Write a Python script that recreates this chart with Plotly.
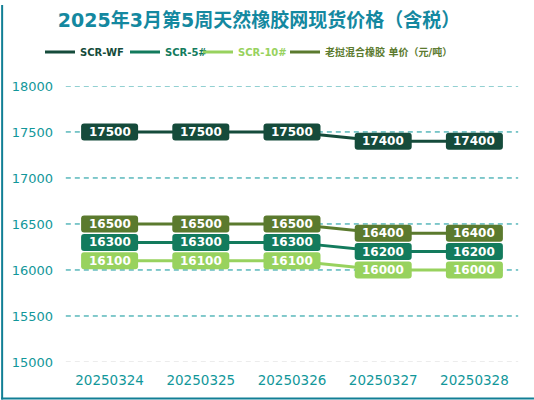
import plotly.graph_objects as go

# ---- data ----
dates = ["20250324", "20250325", "20250326", "20250327", "20250328"]
scr_wf = [17500, 17500, 17500, 17400, 17400]
scr_5 = [16300, 16300, 16300, 16200, 16200]
scr_10 = [16100, 16100, 16100, 16000, 16000]
laos_mix = [16500, 16500, 16500, 16400, 16400]
series_names = ["SCR-WF", "SCR-5#", "SCR-10#", "老挝混合橡胶 单价（元/吨）"]
series_values = [scr_wf, scr_5, scr_10, laos_mix]
series_colors = ["#154b3b", "#137b5d", "#98d25e", "#5b7a2e"]
y_ticks = [15000, 15500, 16000, 16500, 17000, 17500, 18000]
title_text = "2025年3月第5周天然橡胶网现货价格（含税）"

W, H = 534, 400
ML, MR, MT, MB = 63, 14, 82, 38
PW, PH = W - ML - MR, H - MT - MB

FONT = "DejaVu Sans, Noto Sans CJK SC, sans-serif"
TEAL = "#12979a"
GRID = "#079499"

fig = go.Figure()

legend_ids = ["legend", "legend2", "legend3", "legend4"]
legend_x_px = [40, 125, 198, 285]

for name, vals, col, lid in zip(series_names, series_values, series_colors, legend_ids):
    fig.add_trace(go.Scatter(
        x=dates, y=vals, mode="lines",
        line=dict(color=col, width=3),
        name=f'<span style="color:{col}"><b>{name}</b></span>',
        hoverinfo="skip", legend=lid,
    ))

# rounded label boxes + text (anchored at category index / value)
BW, BH, R = 57, 17, 3
hw, hh = BW / 2, BH / 2
box_path = (
    f"M {-hw + R},{-hh} L {hw - R},{-hh} Q {hw},{-hh} {hw},{-hh + R} "
    f"L {hw},{hh - R} Q {hw},{hh} {hw - R},{hh} L {-hw + R},{hh} "
    f"Q {-hw},{hh} {-hw},{hh - R} L {-hw},{-hh + R} Q {-hw},{-hh} {-hw + R},{-hh} Z"
)
shapes = []
annotations = []

# dashed value gridlines (teal) and gray baseline
for t in y_ticks:
    shapes.append(dict(
        type="line", xref="paper", yref="y", x0=0.004, x1=0.996, y0=t, y1=t,
        line=dict(color="#d9d9d9" if t == y_ticks[0] else GRID, width=1,
                  dash="5px,4px"),
        layer="below",
    ))

for vals, col in zip(series_values, series_colors):
    for i, v in enumerate(vals):
        shapes.append(dict(
            type="path", xref="x", yref="y",
            xsizemode="pixel", ysizemode="pixel",
            xanchor=i, yanchor=v, path=box_path,
            fillcolor=col, line=dict(width=0), layer="above",
        ))
        annotations.append(dict(
            x=i, y=v, xref="x", yref="y", text=f"<b>{v}</b>",
            showarrow=False, font=dict(family=FONT, size=12, color="white"),
            xanchor="center", yanchor="middle",
        ))

# frame lines (left and bottom)
shapes.append(dict(
    type="line", xref="paper", yref="paper",
    x0=-(ML - 1) / PW, x1=-(ML - 1) / PW, y0=-MB / PH, y1=(PH + MT) / PH,
    line=dict(color="#127f95", width=2),
))
shapes.append(dict(
    type="line", xref="paper", yref="paper",
    x0=-ML / PW, x1=(PW + MR) / PW, y0=-(MB - 1) / PH, y1=-(MB - 1) / PH,
    line=dict(color="#127f95", width=2),
))

legend_common = dict(
    orientation="h", xref="container", xanchor="left",
    yref="container", y=1 - 52 / H, yanchor="middle",
    font=dict(family=FONT, size=10), bgcolor="rgba(0,0,0,0)",
    itemwidth=30,
)
legends = {
    lid: dict(legend_common, x=px / W) for lid, px in zip(legend_ids, legend_x_px)
}

fig.update_layout(
    width=W, height=H,
    margin=dict(l=ML, r=MR, t=MT, b=MB),
    paper_bgcolor="white", plot_bgcolor="white",
    font=dict(family=FONT),
    title=dict(
        text=f"<b>{title_text}</b>", x=0.485, xanchor="center",
        y=1 - 20 / H, yanchor="middle",
        font=dict(family=FONT, size=19, color="#1488a0"),
    ),
    showlegend=True,
    xaxis=dict(
        type="category", range=[-0.5, len(dates) - 0.5], autorange=False,
        showgrid=False, zeroline=False, showline=False,
        ticks="", tickfont=dict(family=FONT, size=13.5, color=TEAL),
        ticklabelstandoff=8,
    ),
    yaxis=dict(
        range=[y_ticks[0], y_ticks[-1]], autorange=False,
        tickvals=y_ticks, tickformat="d",
        showgrid=False, zeroline=False, showline=False, ticks="",
        tickfont=dict(family=FONT, size=13, color=TEAL),
        ticklabelstandoff=10,
    ),
    shapes=shapes, annotations=annotations,
    **legends,
)

fig.write_html(
    "out.html",
    config={"displayModeBar": False},
    post_script="document.body.style.margin='0';document.body.style.overflow='hidden';",
)
